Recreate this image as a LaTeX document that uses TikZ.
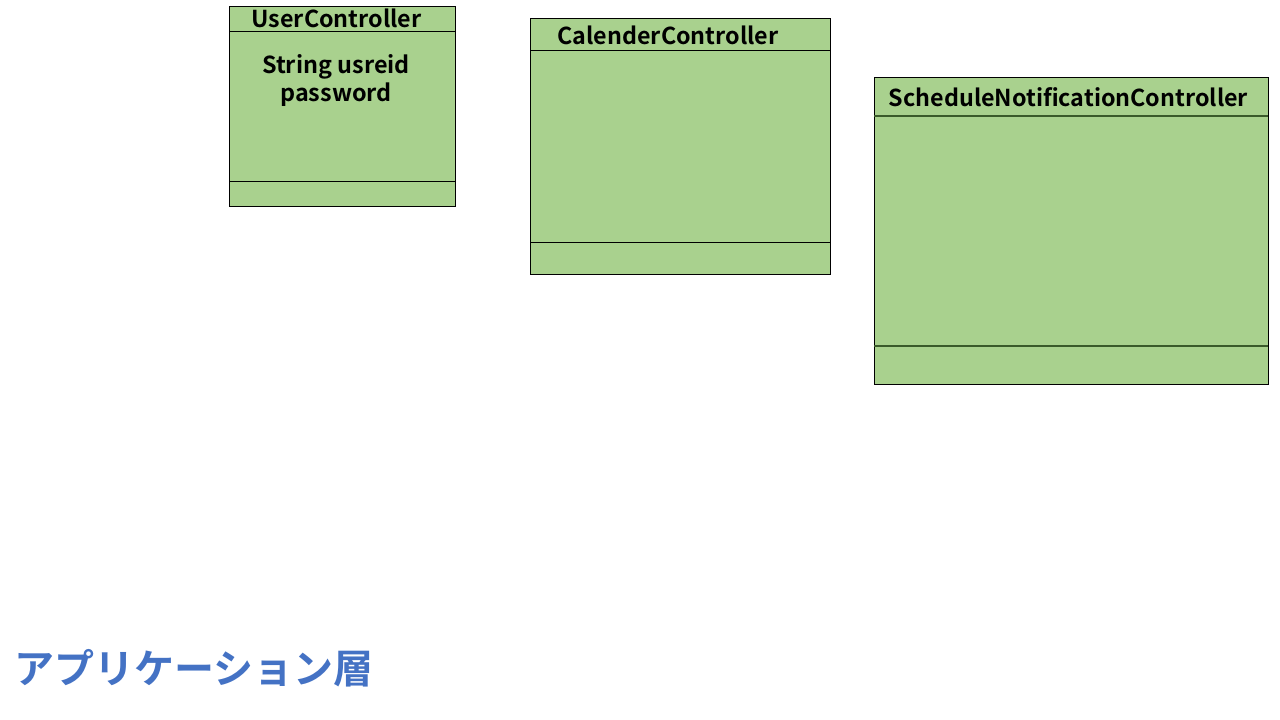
\documentclass[tikz,border=0pt]{standalone}
\usepackage{fontspec}
\setmainfont{Noto Sans CJK JP}[BoldFont={* Bold}]
\definecolor{boxgreen}{HTML}{A9D18E}
\definecolor{divgreen}{HTML}{3A5A2A}
\definecolor{layerblue}{HTML}{4472C4}
\begin{document}
\begin{tikzpicture}[x=1pt,y=-1pt,
  classbox/.style={draw=black,fill=boxgreen,line width=0.8pt},
  divline/.style={draw=black,line width=0.8pt},
  divline2/.style={draw=divgreen,line width=1.1pt},
  title/.style={font=\bfseries\fontsize{23.3}{26}\selectfont,inner sep=0pt,anchor=center},
  attr/.style={font=\bfseries\fontsize{23.4}{28}\selectfont,inner sep=0pt,align=center,anchor=center},
  layer/.style={font=\bfseries\fontsize{40}{46}\selectfont,text=layerblue,inner sep=0pt,anchor=west}]
\useasboundingbox (0,0) rectangle (1280,720);
% UserController
\path[classbox] (229,6) rectangle (455,206);
\coordinate (u1l) at (229,31); \coordinate (u1r) at (455,31);
\coordinate (u2l) at (229,181); \coordinate (u2r) at (455,181);
\draw[divline] (u1l) -- (u1r);
\draw[divline] (u2l) -- (u2r);
\node[title] (uname) at (336.5,18.5) {UserController};
\node[attr] (uattr) at (336,81) {String usreid\\password};
% CalenderController
\path[classbox] (530,18) rectangle (830,274);
\coordinate (c1l) at (530,50); \coordinate (c1r) at (830,50);
\coordinate (c2l) at (530,242); \coordinate (c2r) at (830,242);
\draw[divline] (c1l) -- (c1r);
\draw[divline] (c2l) -- (c2r);
\node[title] (cname) at (668,35.5) {CalenderController};
% ScheduleNotificationController
\path[classbox] (874,77) rectangle (1268,384);
\coordinate (s1l) at (874,116); \coordinate (s1r) at (1268,116);
\coordinate (s2l) at (874,346); \coordinate (s2r) at (1268,346);
\draw[divline2] (s1l) -- (s1r);
\draw[divline2] (s2l) -- (s2r);
\node[title] (sname) at (1068.5,97.5) {ScheduleNotificationController};
% layer label
\node[layer] (layerlbl) at (14,668) {アプリケーション層};
\end{tikzpicture}
\end{document}
